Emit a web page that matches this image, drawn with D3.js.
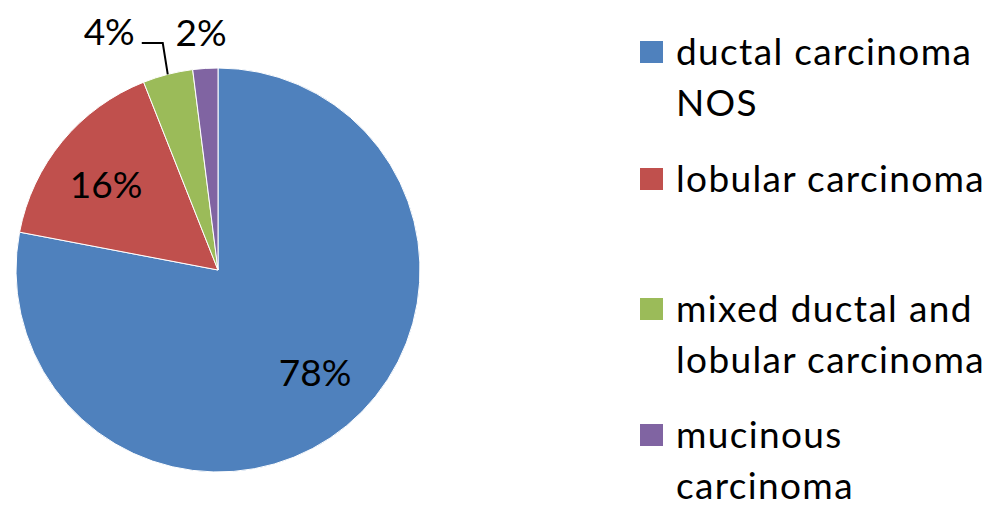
<!DOCTYPE html>
<html><head><meta charset="utf-8">
<script src="https://cdn.jsdelivr.net/npm/d3@7"></script>
<style>body{margin:0;background:#fff}svg{display:block}text{font-family:Lato,"Open Sans",sans-serif;fill:#000}</style>
</head><body>
<svg id="c" width="1000" height="523"></svg>
<script>
const categories = ["ductal carcinoma NOS", "lobular carcinoma", "mixed ductal and lobular carcinoma", "mucinous carcinoma"];
const legendLines = [["ductal carcinoma", "NOS"], ["lobular carcinoma"], ["mixed ductal and", "lobular carcinoma"], ["mucinous", "carcinoma"]];
const values = [78, 16, 4, 2];
const labels = ["78%", "16%", "4%", "2%"];
const colors = ["#4F81BD", "#C0504D", "#9BBB59", "#8064A2"];

const svg = d3.select("#c");
const cx = 218, cy = 270, R = 202;
const g = svg.append("g").attr("transform", `translate(${cx},${cy})`);
const pie = d3.pie().sort(null).value(d => d);
const arcs = pie(values);
const arc = d3.arc().innerRadius(0).outerRadius(R);
g.selectAll("path").data(arcs).enter().append("path")
  .attr("d", arc).attr("fill", (d, i) => colors[i])
  .attr("stroke", "#fff").attr("stroke-width", 1);

const fs = 37;
const inner = d3.arc().innerRadius(R * 0.7).outerRadius(R * 0.7);
// inside labels
const inOff = [[7, -7], [-3, 4]];
[0, 1].forEach(i => {
  const [x, y] = inner.centroid(arcs[i]);
  g.append("text").attr("x", x + inOff[i][0]).attr("y", y + inOff[i][1]).attr("text-anchor", "middle")
    .attr("dominant-baseline", "central").attr("font-size", fs).text(labels[i]);
});
// outside labels
const outer = d3.arc().innerRadius(R * 1.18).outerRadius(R * 1.18);
{
  const [x, y] = outer.centroid(arcs[3]);
  g.append("text").attr("x", x - 2).attr("y", y - 1).attr("text-anchor", "middle")
    .attr("dominant-baseline", "central").attr("font-size", fs).text(labels[3]);
}
{
  const a = arcs[2];
  const ang = (a.startAngle + a.endAngle) / 2;
  const px = Math.sin(ang) * R, py = -Math.cos(ang) * R;
  const ly = -227, lx2 = px - 5, lx3 = px - 26;
  g.append("path").attr("d", `M${px},${py}L${lx2},${ly}L${lx3},${ly}`)
    .attr("fill", "none").attr("stroke", "#000").attr("stroke-width", 2);
  g.append("text").attr("x", lx3 - 7).attr("y", ly - 13).attr("text-anchor", "end")
    .attr("dominant-baseline", "central").attr("font-size", fs).text(labels[2]);
}

// legend
const entryY = [65, 192, 322, 448];
const lineH = 51;
const lg = svg.append("g");
// measure to fit reference text width
const probe = lg.append("text").attr("font-size", fs).text("lobular carcinoma");
const w = probe.node().getComputedTextLength();
probe.remove();
const ls = (309 - w) / 17;
categories.forEach((c, i) => {
  lg.append("rect").attr("x", 640).attr("y", entryY[i] - 24).attr("width", 23).attr("height", 22)
    .attr("fill", colors[i]);
  legendLines[i].forEach((t, j) => {
    lg.append("text").attr("x", 676).attr("y", entryY[i] + j * lineH)
      .attr("font-size", fs).attr("letter-spacing", ls).text(t);
  });
});
</script>
</body></html>
